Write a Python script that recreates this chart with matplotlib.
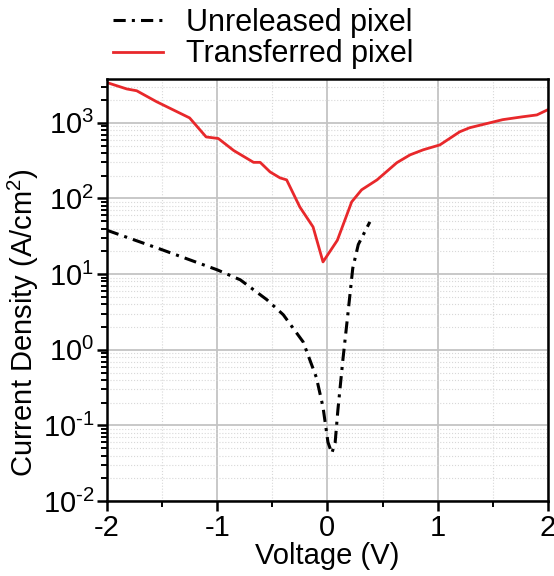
import numpy as np
import matplotlib
matplotlib.use('Agg')
import matplotlib.pyplot as plt
from matplotlib.ticker import LogLocator, FixedLocator, FuncFormatter, NullFormatter

plt.rcParams['font.family'] = ['Liberation Sans', 'DejaVu Sans']
plt.rcParams['mathtext.fontset'] = 'custom'
plt.rcParams['mathtext.rm'] = 'Liberation Sans'

# 读图得到的数据 (电压 V, 电流密度 A/cm^2)
v_transfer = [-2.0, -1.82, -1.73, -1.55, -1.25, -1.1, -0.99, -0.85, -0.67, -0.61,
              -0.52, -0.43, -0.37, -0.25, -0.13, -0.04, 0.09, 0.22, 0.31, 0.45,
              0.63, 0.75, 0.87, 1.02, 1.2, 1.29, 1.59, 1.77, 1.9, 2.0]
j_transfer = [3400, 2800, 2650, 1900, 1160, 650, 620, 430, 300, 300,
              224, 187, 176, 77, 42, 14.5, 28, 90, 130, 176,
              297, 377, 440, 510, 760, 860, 1100, 1200, 1270, 1490]

v_unrel = [-2.0, -1.5, -1.0, -0.79, -0.55, -0.40, -0.22, -0.10, -0.04, 0.005,
           0.04, 0.07, 0.095, 0.14, 0.19, 0.23, 0.28, 0.385]
j_unrel = [38, 21, 11.4, 8.4, 4.6, 2.9, 1.27, 0.43, 0.175, 0.06,
           0.043, 0.059, 0.16, 0.73, 3.4, 12, 24.6, 49]

x_ticks = [-2, -1, 0, 1, 2]
legend_labels = ['Unreleased pixel', 'Transferred pixel']


def dec_label(v, pos):
    # 指数用短横线, 比数学减号窄
    e = int(round(np.log10(v)))
    s = str(abs(e)) if e >= 0 else '\u2010' + str(abs(e))
    return r'$\mathregular{10^{%s}}$' % s


fig = plt.figure(figsize=(5.54, 5.76), dpi=100)
ax = fig.add_axes([0.193, 0.130, 0.796, 0.733])

l1, = ax.plot(v_unrel, j_unrel, color='black', lw=2.2, dashes=(4, 2, 1, 2))
l2, = ax.plot(v_transfer, j_transfer, color='#e8282b', lw=2)

ax.set_yscale('log')
ax.set_xlim(-2, 2)
ax.set_ylim(0.01, 3800)

ax.xaxis.set_major_locator(FixedLocator(x_ticks))
ax.xaxis.set_minor_locator(FixedLocator([-1.5, -0.5, 0.5, 1.5]))
ax.yaxis.set_major_locator(LogLocator(base=10, numticks=10))
ax.yaxis.set_minor_locator(LogLocator(base=10, subs=np.arange(2, 10), numticks=20))
ax.yaxis.set_minor_formatter(NullFormatter())
ax.yaxis.set_major_formatter(FuncFormatter(dec_label))
ax.xaxis.set_major_formatter(FuncFormatter(lambda v, p: '%d' % v))

ax.grid(which='major', color='#c4c4c4', lw=1.3)
ax.grid(which='minor', color='#d8d8d8', lw=0.8, ls=':')
ax.set_axisbelow(True)

for s in ax.spines.values():
    s.set_linewidth(1.8)
ax.tick_params(which='major', direction='out', length=7, width=1.8, labelsize=21, pad=2)
ax.tick_params(which='minor', direction='out', length=4, width=1.4)

ax.set_xlabel('Voltage (V)', fontsize=21, labelpad=0)
ax.set_ylabel(r'Current Density (A/cm$\mathregular{^2}$)', fontsize=21)
ax.yaxis.set_label_coords(-0.15, 0.424)

fig.legend([l1, l2], legend_labels, loc='upper left', bbox_to_anchor=(0.154, 1.034),
           frameon=False, fontsize=22, handlelength=1.64, labelspacing=0.05, handletextpad=0.75)

plt.savefig('out.png', dpi=100)
